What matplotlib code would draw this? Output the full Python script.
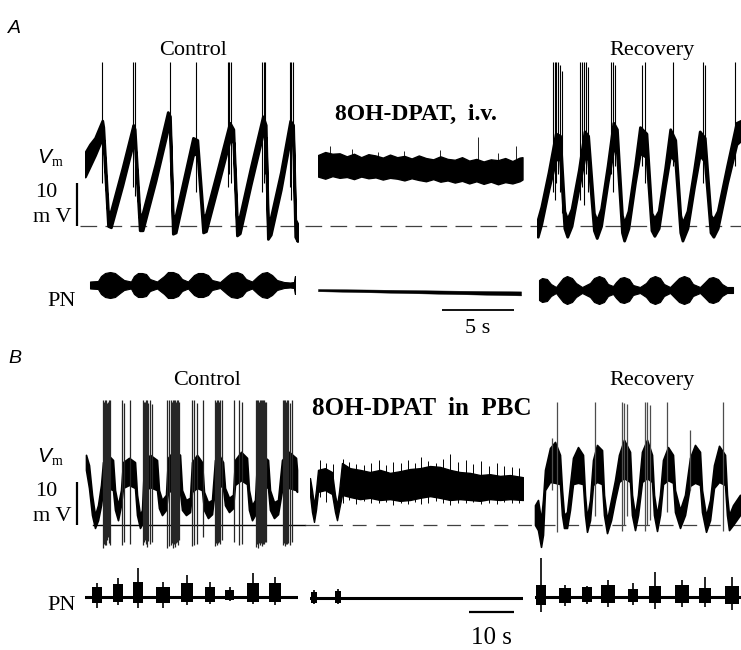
import matplotlib
matplotlib.use("Agg")
import matplotlib.pyplot as plt

plt.rcParams['font.family'] = 'Liberation Serif'
plt.rcParams['lines.scale_dashes'] = False

W, H = 741, 650
PX_MV = 4.3          # pixels per mV (10 mV bar)
PPS_A = 14.4         # pixels per s, panel A (5 s bar)
PPS_B = 4.5          # pixels per s, panel B (10 s bar)

# ---------------- panel A, Vm (s, mV above dashed baseline) ----------------
a_ctrl_t = [0.0, 0.35, 0.7, 1.2, 1.27, 1.6, 1.8, 2.6, 3.35, 3.45,
            3.8, 4.0, 4.9, 5.75, 5.9, 6.1, 6.3, 6.9, 7.5, 7.8,
            8.2, 8.4, 9.2, 10.05, 10.3, 10.55, 10.75, 11.5, 12.35, 12.55,
            12.7, 12.9, 13.6, 14.25, 14.45, 14.6, 14.75]
a_ctrl_hi = [17.0, 19.0, 20.5, 24.5, 23.0, 3.0, 3.5, 13.5, 23.5, 22.5,
             2.0, 3.0, 14.5, 26.5, 25.5, 1.5, 2.5, 11.5, 20.5, 20.0,
             2.0, 2.8, 13.0, 24.0, 22.5, 1.3, 2.3, 13.5, 25.5, 23.5,
             0.5, 2.0, 12.5, 24.5, 23.5, 1.5, 0.5]
a_ctrl_lo = [11.5, 14.0, 16.5, 20.5, 20.0, 0.0, -0.3, 9.5, 19.5, 19.5,
             -1.0, -1.0, 10.5, 22.5, 22.5, -1.8, -1.5, 7.5, 16.5, 17.0,
             -1.5, -1.2, 9.0, 20.0, 19.5, -2.2, -1.7, 9.5, 21.5, 20.5,
             -3.0, -2.0, 8.5, 20.5, 20.5, -2.5, -3.5]
a_ctrl_spk_t = [1.18, 3.33, 3.47, 5.90, 7.71, 9.93, 10.03, 10.14, 12.29, 12.40,
                12.50, 14.24, 14.34, 14.44]
a_ctrl_spk_lo = [10, 9, 7, 15, 8, 9, 12, 10, 8, 10, 12, 9, 6, 10]
a_ctrl_spk_hi = [38.1, 38.1, 38.1, 38.1, 38.1, 38.1, 38.1, 38.1, 38.1, 38.1,
                 38.1, 38.1, 38.1, 38.1]

a_mid_t = [0, 0.5, 1.0, 1.5, 2.0, 2.5, 3.0, 3.5, 4.0, 4.5,
           5.0, 5.5, 6.0, 6.5, 7.0, 7.5, 8.0, 8.5, 9.0, 9.5,
           10.0, 10.5, 11.0, 11.5, 12.0, 12.5, 13.0, 13.5, 14.0, 14.2]
a_mid_hi = [16.5, 17.2, 16.8, 16.9, 16.2, 16.8, 16.0, 16.7, 16.4, 15.9,
            16.6, 16.0, 16.3, 15.7, 16.4, 15.8, 15.5, 16.2, 15.6, 15.4,
            16.0, 15.2, 15.6, 15.0, 15.5, 15.3, 15.8, 15.1, 15.9, 16.0]
a_mid_lo = [11.5, 11.0, 11.6, 11.2, 11.4, 10.9, 11.5, 11.1, 11.3, 10.8,
            11.2, 11.0, 10.6, 11.1, 10.7, 10.4, 10.9, 10.3, 10.6, 10.1,
            10.5, 9.9, 10.4, 9.8, 10.3, 9.7, 10.2, 9.9, 10.4, 10.8]
a_mid_spk_t = [0.83, 2.36, 4.2, 6.0, 8.47, 11.1, 12.5, 13.75]
a_mid_spk_lo = [15, 15, 15, 14.5, 14.5, 14, 14, 14]
a_mid_spk_hi = [18.5, 17.8, 17.2, 17.5, 17.6, 20.7, 17.0, 18.6]

a_rec_t = [0.05, 0.3, 0.8, 1.3, 1.6, 1.9, 2.1, 2.4, 2.9, 3.3,
           3.55, 3.95, 4.15, 4.45, 4.9, 5.3, 5.55, 5.9, 6.05, 6.35,
           6.8, 7.15, 7.6, 7.95, 8.15, 8.45, 8.9, 9.25, 9.6, 9.95,
           10.1, 10.45, 10.9, 11.3, 11.65, 12.05, 12.25, 12.55, 13.2, 13.85,
           14.17]
a_rec_hi = [1.5, 4.5, 12.5, 21.5, 21.0, 3.5, 1.5, 4.0, 13.0, 22.0,
            21.0, 3.0, 1.2, 4.0, 14.0, 24.0, 22.5, 2.5, 0.6, 3.5,
            14.0, 23.0, 21.5, 3.0, 1.7, 3.5, 13.5, 22.5, 20.0, 2.5,
            0.6, 3.5, 13.0, 22.0, 20.5, 2.5, 1.5, 3.5, 14.0, 24.0,
            24.5]
a_rec_lo = [-2.5, 0.5, 8.5, 15.5, 15.5, -0.5, -2.5, 0.0, 9.0, 16.0,
            15.5, -1.0, -2.8, 0.0, 10.0, 18.0, 17.0, -1.5, -3.4, -0.5,
            10.0, 17.0, 16.0, -1.0, -2.3, -0.5, 9.5, 16.5, 15.0, -1.5,
            -3.4, -0.5, 9.0, 16.5, 15.0, -1.5, -2.5, -0.5, 10.0, 19.0,
            20.0]
a_rec_spk_t = [1.11, 1.25, 1.35, 1.46, 1.6, 1.74, 2.99, 3.13, 3.26, 3.4,
               3.54, 5.14, 5.28, 5.42, 7.29, 7.5, 9.44, 11.53, 11.67, 13.75]
a_rec_spk_lo = [8, 6, 10, 12, 8, 3, 6, 9, 5, 12, 8, 12, 8, 14, 14, 10, 14, 10, 12, 14]
a_rec_spk_hi = [38.1, 38.1, 38.1, 38.1, 37.5, 36.0, 38.1, 38.1, 38.1, 38.1,
                37.0, 38.1, 38.1, 37.5, 37.4, 38.1, 38.1, 38.1, 37.5, 38.1]

# ---------------- panel A, phrenic nerve (PN) envelope, a.u. ----------------
pn_a_ctrl_t = [0.35, 0.90, 1.11, 1.39, 1.74, 2.08, 2.43, 2.71, 3.19, 3.40,
               3.68, 3.96, 4.24, 4.51, 5.0, 5.49, 5.76, 6.11, 6.46, 6.74,
               7.15, 7.57, 7.85, 8.19, 8.54, 8.82, 9.38, 9.86, 10.14, 10.56,
               10.90, 11.18, 11.60, 12.01, 12.29, 12.64, 12.99, 13.33, 13.82, 14.24,
               14.51, 14.58]
pn_a_ctrl_amp = [3.5, 4, 9, 12, 13, 12, 8, 5, 3.5, 9,
                 12, 12, 11, 6, 3.5, 9, 13, 13, 11, 6,
                 3.5, 10, 12, 12, 10, 5, 3, 9, 12, 13,
                 11, 6, 3.5, 9, 12, 13, 10, 5, 3, 2.5,
                 3, 9]
pn_a_mid_t = [0, 4, 8, 12, 14.1]
pn_a_mid_hi = [3.0, 2.4, 1.6, 0.9, 0.6]
pn_a_mid_lo = [0.8, -0.4, -1.6, -2.8, -3.4]
pn_a_rec_t = [0.14, 0.35, 0.69, 0.97, 1.32, 1.53, 1.81, 2.08, 2.43, 2.71,
              3.13, 3.68, 3.96, 4.31, 4.65, 4.93, 5.28, 5.49, 5.76, 6.04,
              6.39, 6.67, 7.15, 7.57, 7.85, 8.19, 8.54, 8.82, 9.24, 9.58,
              9.86, 10.21, 10.56, 10.83, 11.32, 11.67, 11.94, 12.22, 12.57, 12.85,
              13.19, 13.61]
pn_a_rec_amp = [10, 12, 11, 6, 3, 7, 12, 14, 12, 7,
                3, 7, 12, 14, 12, 6, 4, 8, 12, 13,
                11, 5, 3, 7, 12, 14, 12, 6, 3, 8,
                12, 14, 12, 6, 3, 8, 12, 13, 11, 6,
                3, 3]

# ---------------- panel B, Vm ----------------
b_ctrl_t = [0.22, 0.89, 1.56, 2.22, 2.89, 3.56, 4.0, 5.11, 6.22, 6.67,
            7.33, 8.0, 8.44, 9.78, 11.11, 11.56, 12.22, 12.67, 13.11, 14.44,
            16.0, 16.44, 17.11, 18.0, 18.44, 19.78, 21.11, 21.56, 22.44, 23.33,
            23.78, 24.89, 26.0, 26.44, 27.33, 28.22, 28.89, 29.78, 30.67, 31.11,
            32.0, 32.89, 33.33, 34.67, 36.0, 36.44, 37.11, 37.78, 38.22, 39.33,
            40.67, 41.11, 42.0, 42.89, 43.78, 45.33, 46.89, 47.11]
b_ctrl_hi = [16.2, 13.8, 6.9, 2.2, 4.5, 9.2, 14.5, 16.2, 15.0, 8.0,
             4.5, 8.0, 14.5, 15.5, 14.5, 6.9, 2.2, 3.4, 13.8, 16.2,
             15.0, 8.0, 5.7, 6.9, 15.5, 17.3, 16.2, 8.0, 5.7, 6.2,
             14.5, 16.2, 14.5, 7.6, 5.2, 5.7, 15.0, 16.2, 14.5, 8.5,
             6.2, 6.9, 15.0, 16.9, 15.5, 8.0, 4.5, 5.7, 14.5, 16.2,
             15.0, 8.0, 5.2, 5.7, 15.0, 16.9, 15.5, 12.7]
b_ctrl_lo = [12.7, 8.5, 2.2, -0.8, 1.0, 4.5, 8.0, 8.5, 8.0, 3.4,
             1.0, 4.5, 8.5, 9.2, 8.5, 2.2, -0.8, 0.1, 7.6, 8.7,
             8.0, 3.8, 2.2, 3.4, 7.6, 8.0, 7.6, 3.4, 2.2, 2.9,
             7.6, 8.5, 8.0, 3.4, 1.5, 2.4, 8.5, 9.4, 8.5, 4.5,
             2.9, 3.8, 9.2, 10.3, 9.4, 3.4, 1.0, 2.2, 8.5, 9.2,
             8.5, 3.4, 1.5, 2.4, 8.0, 8.5, 8.0, 7.6]
b_ctrl_spk_t = [4.0, 4.22, 4.44, 4.67, 4.89, 5.11, 5.33, 5.56, 8.22, 8.67,
                10.0, 12.89, 13.11, 13.33, 13.56, 13.78, 14.0, 14.44, 14.89, 18.22,
                18.67, 19.11, 19.33, 19.56, 19.78, 20.0, 20.22, 20.44, 20.67, 20.89,
                23.78, 24.22, 24.89, 26.22, 28.89, 29.11, 29.33, 29.56, 29.78, 30.0,
                30.44, 33.11, 34.22, 34.89, 38.0, 38.22, 38.44, 38.67, 38.89, 39.11,
                39.33, 39.56, 39.78, 40.0, 40.22, 44.0, 44.22, 44.44, 44.67, 44.89,
                45.11, 45.56, 46.0]
b_ctrl_spk_hi = [28.9, 28.5, 28.9, 28.9, 28.2, 28.5, 28.9, 28.9, 28.9, 28.2,
                 28.9, 28.9, 28.5, 28.5, 28.9, 28.9, 28.2, 28.9, 28.0, 28.9,
                 28.9, 28.9, 28.5, 28.9, 28.9, 28.9, 28.5, 28.9, 28.9, 28.5,
                 28.9, 28.9, 28.2, 28.9, 28.9, 28.5, 28.9, 28.9, 28.5, 28.9,
                 28.9, 28.9, 28.9, 28.5, 28.9, 28.9, 28.9, 28.5, 28.9, 28.9,
                 28.9, 28.9, 28.9, 28.5, 28.5, 28.9, 28.9, 28.9, 28.5, 28.9,
                 28.9, 28.2, 28.9]
b_ctrl_spk_lo = [-5.5, -4.5, -4.8, -4.8, -3.5, -3.0, -4.2, -4.8, -4.8, -4.0,
                 -4.5, -4.8, -4.0, -3.5, -4.5, -5.2, -3.8, -4.5, -4.0, -5.5,
                 -5.0, -4.8, -4.2, -5.5, -4.6, -5.2, -4.4, -4.0, -4.8, -3.5,
                 -5.0, -4.8, -4.5, -3.0, -5.0, -4.4, -4.8, -4.2, -4.0, -4.6,
                 -3.5, -4.0, -4.8, -4.5, -5.2, -4.6, -5.5, -4.2, -4.8, -4.4,
                 -5.0, -4.6, -4.5, -4.0, -4.0, -4.8, -4.4, -5.0, -4.6, -4.5,
                 -4.2, -4.8, -4.0]

b_mid_t = [0, 0.44, 0.89, 1.33, 1.78, 3.33, 4.89, 5.56, 6.0, 6.44,
           7.11, 8.89, 11.11, 13.33, 15.56, 17.78, 20.0, 22.22, 24.44, 26.67,
           28.89, 31.11, 33.33, 35.56, 37.78, 40.0, 42.22, 44.44, 47.33]
b_mid_hi = [10.8, 8.0, 4.5, 8.0, 12.7, 13.1, 12.2, 6.9, 4.5, 7.6,
            14.3, 13.1, 12.7, 12.2, 12.7, 12.0, 12.4, 12.9, 13.1, 13.6,
            13.4, 12.7, 12.2, 12.0, 11.5, 11.7, 11.3, 11.5, 11.0]
b_mid_lo = [6.9, 2.9, 0.6, 3.4, 7.6, 8.0, 7.1, 2.9, 1.0, 3.4,
            6.9, 6.4, 5.9, 6.2, 5.7, 5.9, 5.5, 5.7, 6.2, 6.6,
            6.2, 5.7, 5.9, 5.7, 5.5, 5.9, 5.7, 5.9, 5.7]
b_mid_spk_t = [2.2, 3.6, 5.1, 7.3, 8.7, 10.2, 12.0, 13.6, 15.3, 16.9,
               18.4, 20.2, 21.8, 23.3, 24.7, 26.2, 28.0, 29.6, 31.1, 32.9,
               34.7, 36.2, 38.0, 39.8, 41.6, 43.1, 44.9, 46.4]
b_mid_spk_hi = [15.0, 14.2, 14.0, 15.2, 14.6, 14.1, 13.8, 14.4, 14.9, 13.9,
                14.6, 14.3, 15.1, 14.2, 15.7, 14.8, 14.4, 15.3, 16.4, 14.6,
                14.9, 14.1, 14.7, 13.7, 14.2, 13.6, 13.4, 13.2]
b_mid_spk_lo = [6.5, 5.2, 6.8, 5.0, 5.6, 4.8, 5.5, 5.0, 4.9, 5.3,
                4.6, 5.1, 4.8, 5.2, 4.7, 5.0, 5.4, 4.9, 4.6, 5.1,
                4.9, 5.3, 4.7, 5.0, 4.8, 5.2, 4.9, 5.0]

b_rec_t = [0.67, 1.33, 2.0, 2.44, 2.89, 4.0, 5.11, 6.22, 6.67, 7.11,
           7.78, 8.44, 9.11, 10.22, 11.33, 11.78, 12.22, 12.89, 13.56, 14.44,
           15.56, 16.0, 16.67, 17.56, 18.44, 19.33, 20.44, 21.78, 22.22, 22.89,
           23.56, 24.44, 25.56, 26.67, 27.11, 27.78, 28.44, 29.11, 30.22, 31.33,
           31.78, 32.89, 34.0, 35.11, 36.22, 37.33, 37.78, 38.67, 39.56, 40.44,
           41.56, 42.89, 43.33, 43.78, 44.67, 46.22]
b_rec_hi = [4.5, 5.7, 1.0, 5.7, 12.7, 17.8, 19.2, 16.2, 8.0, 2.2,
            2.9, 9.2, 15.5, 18.0, 16.2, 6.9, 1.5, 5.7, 15.0, 18.5,
            17.3, 6.9, 1.0, 5.7, 10.3, 16.2, 19.7, 16.9, 6.9, 2.2,
            6.9, 16.9, 19.7, 16.2, 6.9, 2.2, 6.9, 15.0, 18.0, 16.2,
            8.0, 3.4, 6.9, 15.5, 18.5, 16.9, 8.0, 2.0, 5.7, 13.8,
            18.3, 16.2, 6.9, 2.2, 4.5, 6.9]
b_rec_lo = [-0.1, -1.3, -5.2, -2.4, 8.0, 9.9, 9.7, 9.4, 2.2, -0.8,
            -0.8, 3.4, 9.4, 9.7, 9.4, 2.2, -1.7, 1.0, 9.2, 9.9,
            9.4, 2.2, -2.0, 1.0, 5.7, 9.9, 10.8, 9.9, 2.2, -1.3,
            2.2, 9.9, 10.8, 9.9, 2.2, -1.5, 2.2, 9.4, 10.3, 9.7,
            2.9, -0.8, 2.2, 9.0, 9.7, 9.2, 2.9, -1.7, 1.0, 8.5,
            9.9, 9.2, 2.2, -1.3, -0.1, 2.2]
b_rec_spk_t = [4.44, 5.56, 14.0, 20.0, 20.44, 21.11, 25.11, 25.56, 26.22, 30.0,
               35.11, 42.44]
b_rec_spk_lo = [8, -1.7, 2, -1.5, 0, 2, -1.5, 0, 1, 3, 8, -1.5]
b_rec_spk_hi = [20.1, 28.5, 28.5, 28.5, 28.3, 28.0, 28.5, 28.5, 27.8, 28.5,
                22.0, 28.5]

# ---------------- panel B, PN bursts (a.u.) ----------------
pn_b_ctrl_t = [2.67, 7.33, 11.78, 17.33, 22.67, 27.78, 32.22, 37.33, 42.22]
pn_b_ctrl_hi = [10, 13, 15, 10, 14, 10, 7, 14, 14]
pn_b_ctrl_peak = [14, 19, 29, 15, 22, 15, 10, 24, 20]
pn_b_ctrl_lo = [-6, -5, -6, -6, -5, -5, -3, -5, -5]
pn_b_ctrl_trough = [-11, -8, -11, -11, -8, -7, -4, -7, -8]
pn_b_ctrl_dur = [2.4, 2.4, 2.2, 2.9, 2.7, 2.4, 2.0, 2.7, 2.7]

pn_b_mid_t = [0.89, 6.22]
pn_b_mid_hi = [6, 7]
pn_b_mid_peak = [8, 9]
pn_b_mid_lo = [-5, -5]
pn_b_mid_trough = [-6, -6]
pn_b_mid_dur = [1.5, 1.5]

pn_b_rec_t = [1.33, 6.67, 11.56, 16.22, 21.78, 26.67, 32.67, 37.78, 43.78]
pn_b_rec_hi = [12, 9, 10, 12, 8, 11, 12, 9, 11]
pn_b_rec_peak = [39, 12, 11, 17, 14, 25, 17, 20, 20]
pn_b_rec_lo = [-8, -6, -5, -6, -5, -6, -6, -6, -7]
pn_b_rec_trough = [-15, -9, -7, -10, -8, -12, -10, -10, -13]
pn_b_rec_dur = [2.2, 2.7, 2.4, 2.9, 2.4, 2.7, 3.1, 2.7, 3.3]

V_TOP, V_BOT = 40, -8

fig = plt.figure(figsize=(W / 100, H / 100), dpi=100)


def px_axes(x0, x1, y0, y1):
    ax = fig.add_axes([x0 / W, 1 - y1 / H, (x1 - x0) / W, (y1 - y0) / H])
    ax.axis('off')
    ax.patch.set_visible(False)
    return ax


def vm_axes(x0, x1, y_base, pps):
    ax = px_axes(x0, x1, y_base - V_TOP * PX_MV, y_base - V_BOT * PX_MV)
    ax.set_xlim(0, (x1 - x0) / pps)
    ax.set_ylim(V_BOT, V_TOP)
    return ax


def pn_axes(x0, x1, y_c, pps):
    ax = px_axes(x0, x1, y_c - 50, y_c + 50)
    ax.set_xlim(0, (x1 - x0) / pps)
    ax.set_ylim(-50, 50)
    return ax


def draw_vm(ax, t, lo, hi, st, slo, shi, spk_lw=0.8, lw=1.0):
    ax.fill_between(t, lo, hi, color='k', lw=lw)
    ax.vlines(st, slo, shi, color='k', lw=spk_lw)


def draw_pn_bursts(ax, t, hi, peak, lo, trough, dur):
    ax.axhline(0, color='k', lw=2.2)
    ax.bar(t, [h - l for h, l in zip(hi, lo)], bottom=lo, width=dur, color='k')
    ax.vlines(t, trough, peak, color='k', lw=1.2)


def px_text(x, y, s, **kw):
    kw.setdefault('va', 'baseline')
    fig.text(x / W, 1 - y / H, s, **kw)


# ---------- panel A ----------
yA = 226
row = vm_axes(0, W, yA, PPS_A)
row.plot([80 / W, 1], [0, 0], transform=row.get_yaxis_transform(),
         color='0.25', lw=0.9, dashes=(12, 6))
row.plot([77 / W, 77 / W], [0, 10], transform=row.get_yaxis_transform(),
         color='k', lw=1.6, solid_capstyle='butt')

ax = vm_axes(85, 298, yA, PPS_A)
draw_vm(ax, a_ctrl_t, a_ctrl_lo, a_ctrl_hi, a_ctrl_spk_t, a_ctrl_spk_lo, a_ctrl_spk_hi, lw=2.0)
ax = vm_axes(318, 523, yA, PPS_A)
draw_vm(ax, a_mid_t, a_mid_lo, a_mid_hi, a_mid_spk_t, a_mid_spk_lo, a_mid_spk_hi, 0.6)
ax = vm_axes(537, 741, yA, PPS_A)
draw_vm(ax, a_rec_t, a_rec_lo, a_rec_hi, a_rec_spk_t, a_rec_spk_lo, a_rec_spk_hi, lw=2.0)

ax = pn_axes(85, 298, 285, PPS_A)
ax.fill_between(pn_a_ctrl_t, [-a for a in pn_a_ctrl_amp], pn_a_ctrl_amp, color='k', lw=0.8)
ax = pn_axes(318, 523, 292, PPS_A)
ax.fill_between(pn_a_mid_t, pn_a_mid_lo, pn_a_mid_hi, color='k', lw=0.3)
ax.plot([8.61, 13.61], [-18, -18], color='k', lw=1.3, solid_capstyle='butt')
ax.text(11.11, -41, '5 s', ha='center', va='baseline', fontsize=16)
ax = pn_axes(537, 741, 290, PPS_A)
ax.fill_between(pn_a_rec_t, [-a for a in pn_a_rec_amp], pn_a_rec_amp, color='k', lw=0.8)

# ---------- panel B ----------
yB = 524.5
row = vm_axes(0, W, yB, PPS_B)
row.plot([93 / W, 305 / W], [0, 0], transform=row.get_yaxis_transform(),
         color='k', lw=1.0)
row.plot([305 / W, 1], [0, 0], transform=row.get_yaxis_transform(),
         color='0.25', lw=0.9, dashes=(10, 7))
row.plot([77 / W, 77 / W], [0, 10], transform=row.get_yaxis_transform(),
         color='k', lw=1.6, solid_capstyle='butt')

ax = vm_axes(85, 298, yB, PPS_B)
ax.vlines(b_ctrl_spk_t, b_ctrl_spk_lo, b_ctrl_spk_hi, color='0.15', lw=0.9)
ax.fill_between(b_ctrl_t, b_ctrl_lo, b_ctrl_hi, color='k', lw=1.2)
ax = vm_axes(310, 523, yB, PPS_B)
draw_vm(ax, b_mid_t, b_mid_lo, b_mid_hi, b_mid_spk_t, b_mid_spk_lo, b_mid_spk_hi, 0.7)
ax = vm_axes(532, 741, yB, PPS_B)
ax.vlines(b_rec_spk_t, b_rec_spk_lo, b_rec_spk_hi, color='0.3', lw=0.9)
ax.fill_between(b_rec_t, b_rec_lo, b_rec_hi, color='k', lw=1.2)

ax = pn_axes(85, 298, 597, PPS_B)
draw_pn_bursts(ax, pn_b_ctrl_t, pn_b_ctrl_hi, pn_b_ctrl_peak, pn_b_ctrl_lo,
               pn_b_ctrl_trough, pn_b_ctrl_dur)
ax = pn_axes(310, 523, 598, PPS_B)
draw_pn_bursts(ax, pn_b_mid_t, pn_b_mid_hi, pn_b_mid_peak, pn_b_mid_lo,
               pn_b_mid_trough, pn_b_mid_dur)
ax.plot([35.33, 45.33], [-14, -14], color='k', lw=1.6, solid_capstyle='butt')
ax.text(40.33, -46, '10 s', ha='center', va='baseline', fontsize=18)
ax = pn_axes(535, 741, 597, PPS_B)
draw_pn_bursts(ax, pn_b_rec_t, pn_b_rec_hi, pn_b_rec_peak, pn_b_rec_lo,
               pn_b_rec_trough, pn_b_rec_dur)

# ---------- labels ----------
for lab, yb in [('A', 33), ('B', 363)]:
    px_text(8, yb, lab, family='Liberation Sans', style='italic', fontsize=14)

px_text(193, 55, 'Control', ha='center', fontsize=16)
px_text(652, 55, 'Recovery', ha='center', fontsize=16)
px_text(416, 120, '8OH-DPAT,  i.v.', ha='center', fontsize=17, weight='bold')
px_text(207, 385, 'Control', ha='center', fontsize=16)
px_text(652, 385, 'Recovery', ha='center', fontsize=16)
px_text(422, 415, '8OH-DPAT  in  PBC', ha='center', fontsize=18, weight='bold')

for off in (0, 299):
    px_text(37, 163 + off, 'V', family='Liberation Sans', style='italic', fontsize=15)
    px_text(52, 166 + off, 'm', fontsize=10)
    px_text(46, 197 + off, '10', ha='center', fontsize=16)
    px_text(52, 222 + off, 'm V', ha='center', fontsize=16)

px_text(62, 306, 'PN', ha='center', fontsize=16)
px_text(62, 610, 'PN', ha='center', fontsize=16)

fig.savefig('out.png', dpi=100)
